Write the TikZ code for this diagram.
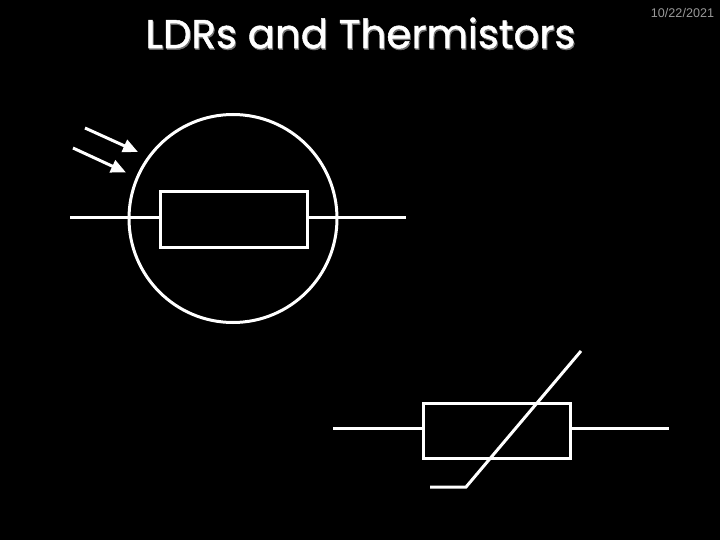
\documentclass[tikz,border=0pt]{standalone}
\usepackage{fontspec}
\setmainfont{Poppins}[FakeBold=1.2]
\newfontfamily\datefont{Liberation Sans}
\usetikzlibrary{arrows.meta}
\definecolor{dategray}{gray}{0.6}
\definecolor{shadowgray}{gray}{0.45}
\tikzset{
  wire/.style={draw=white,line width=3pt},
  body/.style={draw=white,line width=3pt,minimum width=147pt,minimum height=55pt,inner sep=0pt},
  ray/.style={draw=white,line width=3pt,-{Triangle[length=15pt,width=13pt]}},
  titletext/.style={inner sep=0pt,font=\fontsize{40.3}{46}\selectfont}
}
\begin{document}
\begin{tikzpicture}[x=1pt,y=-1pt]
\useasboundingbox[fill=black] (0,0) rectangle (720,540);
% title
\node[titletext,text=shadowgray] (titleshadow) at (361.5,34.5) {LDRs and Thermistors};
\node[titletext,text=white] (title) at (360.5,33) {LDRs and Thermistors};
\node[inner sep=0pt,text=dategray,font=\datefont\fontsize{12.6}{15}\selectfont] (date) at (682.5,12.5) {10/22/2021};
% LDR
\node[draw=white,line width=3pt,circle,minimum size=208pt,inner sep=0pt] (ldr) at (233,218.5) {};
\node[body] (r1) at (233.5,219.5) {};
\coordinate (l1) at (70,217.5);
\coordinate (l2) at (406,217.5);
\draw[wire] (l1) -- (r1.west |- l1);
\draw[wire] (r1.east |- l2) -- (l2);
\coordinate (a1s) at (85,128);
\coordinate (a1e) at (138,152);
\coordinate (a2s) at (73,148);
\coordinate (a2e) at (126,172.5);
\draw[ray] (a1s) -- (a1e);
\draw[ray] (a2s) -- (a2e);
% thermistor
\node[body] (r2) at (496.5,431) {};
\coordinate (t1) at (333,428.5);
\coordinate (t2) at (669,428.5);
\draw[wire] (t1) -- (r2.west |- t1);
\draw[wire] (r2.east |- t2) -- (t2);
\coordinate (d1) at (430,487);
\coordinate (d2) at (466,487);
\coordinate (d3) at (581,351);
\draw[wire,line join=miter] (d1) -- (d2) -- (d3);
\end{tikzpicture}
\end{document}
